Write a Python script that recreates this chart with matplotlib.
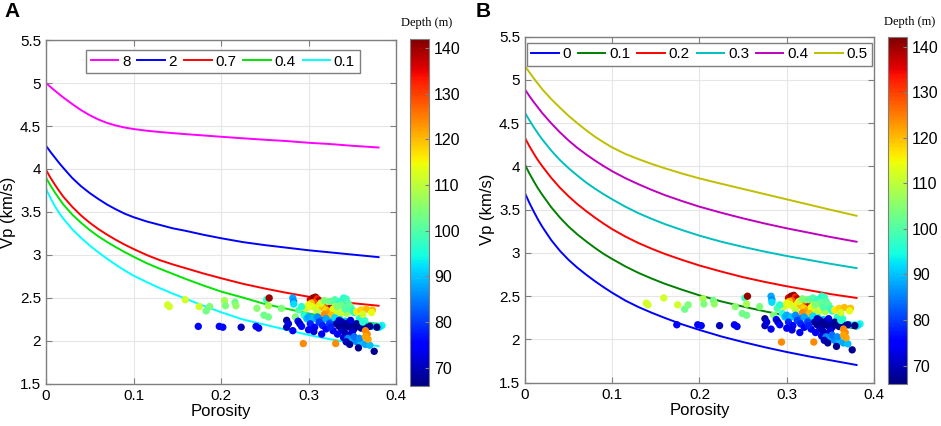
import numpy as np
import matplotlib
matplotlib.use('Agg')
import matplotlib.pyplot as plt
from matplotlib.ticker import FuncFormatter

# Porosity samples used to read the model curves off the figure:
vecPor = [0.0, 0.005, 0.01, 0.015, 0.02, 0.03, 0.04, 0.05, 0.06, 0.07,
          0.08, 0.09, 0.1, 0.115, 0.13, 0.145, 0.16, 0.18, 0.2, 0.225,
          0.25, 0.275, 0.3, 0.325, 0.35, 0.38]

# Panel A curves (legend value -> Vp in km/s):
lstLblA = ['8', '2', '0.7', '0.4', '0.1']
vpA_8 = [5.00, 4.955, 4.912, 4.87, 4.83, 4.755, 4.685, 4.625, 4.575, 4.535,
         4.505, 4.482, 4.465, 4.445, 4.43, 4.417, 4.405, 4.39, 4.375, 4.357,
         4.34, 4.325, 4.305, 4.29, 4.27, 4.25]
vpA_2 = [4.27, 4.20, 4.135, 4.07, 4.01, 3.895, 3.80, 3.72, 3.65, 3.585,
         3.53, 3.48, 3.44, 3.39, 3.35, 3.31, 3.28, 3.235, 3.195, 3.15,
         3.115, 3.085, 3.055, 3.03, 3.005, 2.975]
vpA_07 = [3.99, 3.90, 3.82, 3.745, 3.675, 3.56, 3.46, 3.375, 3.30, 3.235,
          3.175, 3.12, 3.07, 3.00, 2.94, 2.89, 2.845, 2.785, 2.73, 2.665,
          2.61, 2.56, 2.515, 2.475, 2.44, 2.41]
vpA_04 = [3.90, 3.81, 3.73, 3.655, 3.585, 3.47, 3.375, 3.29, 3.215, 3.15,
          3.09, 3.033, 2.98, 2.905, 2.84, 2.78, 2.72, 2.645, 2.575, 2.505,
          2.43, 2.375, 2.32, 2.275, 2.235, 2.20]
vpA_01 = [3.77, 3.665, 3.57, 3.49, 3.42, 3.30, 3.20, 3.11, 3.03, 2.955,
          2.885, 2.82, 2.76, 2.685, 2.615, 2.55, 2.49, 2.41, 2.335, 2.25,
          2.19, 2.13, 2.07, 2.02, 1.98, 1.94]

# Panel B curves:
lstLblB = ['0', '0.1', '0.2', '0.3', '0.4', '0.5']
vpB_0 = [3.69, 3.58, 3.48, 3.385, 3.30, 3.15, 3.025, 2.92, 2.83, 2.75,
         2.675, 2.605, 2.54, 2.45, 2.375, 2.31, 2.25, 2.175, 2.11, 2.035,
         1.97, 1.91, 1.855, 1.805, 1.76, 1.705]
vpB_1 = [4.02, 3.92, 3.83, 3.745, 3.67, 3.53, 3.41, 3.305, 3.215, 3.135,
         3.06, 2.99, 2.93, 2.845, 2.77, 2.705, 2.645, 2.575, 2.51, 2.44,
         2.38, 2.325, 2.275, 2.225, 2.18, 2.125]
vpB_2 = [4.33, 4.235, 4.15, 4.07, 4.00, 3.87, 3.755, 3.655, 3.565, 3.485,
         3.41, 3.34, 3.275, 3.19, 3.115, 3.05, 2.99, 2.92, 2.855, 2.785,
         2.72, 2.665, 2.615, 2.57, 2.525, 2.48]
vpB_3 = [4.62, 4.535, 4.455, 4.38, 4.31, 4.185, 4.075, 3.98, 3.895, 3.815,
         3.745, 3.68, 3.62, 3.535, 3.46, 3.395, 3.335, 3.265, 3.20, 3.13,
         3.07, 3.015, 2.965, 2.92, 2.875, 2.825]
vpB_4 = [4.89, 4.815, 4.745, 4.68, 4.615, 4.50, 4.395, 4.30, 4.215, 4.14,
         4.07, 4.005, 3.945, 3.865, 3.795, 3.73, 3.67, 3.60, 3.535, 3.465,
         3.40, 3.34, 3.285, 3.235, 3.185, 3.13]
vpB_5 = [5.16, 5.09, 5.02, 4.955, 4.89, 4.78, 4.68, 4.585, 4.50, 4.42,
         4.345, 4.28, 4.22, 4.145, 4.085, 4.03, 3.98, 3.918, 3.862, 3.80,
         3.74, 3.68, 3.62, 3.56, 3.50, 3.43]

# Measured samples: porosity, Vp (km/s), depth (m)
datPor = [
    0.139, 0.141, 0.159, 0.175, 0.183, 0.187, 0.174, 0.198, 0.202, 0.204,
    0.205, 0.216, 0.217, 0.223, 0.240, 0.243, 0.241, 0.252, 0.255, 0.249,
    0.254, 0.254, 0.269, 0.275, 0.275, 0.277,
    0.282, 0.283, 0.283, 0.285, 0.282, 0.288, 0.290, 0.292, 0.294, 0.297,
    0.289, 0.295, 0.298, 0.292,
    0.302, 0.305, 0.308, 0.310, 0.312, 0.306, 0.315, 0.318, 0.322, 0.326,
    0.303, 0.300,
    0.304, 0.308, 0.312, 0.316, 0.320, 0.324, 0.328, 0.332, 0.336, 0.310,
    0.318, 0.326, 0.340, 0.344, 0.314, 0.322, 0.330,
    0.318, 0.325, 0.330, 0.335, 0.340, 0.343, 0.338, 0.345, 0.348, 0.333,
    0.342, 0.350, 0.352,
    0.300, 0.305, 0.310, 0.315, 0.320, 0.325, 0.330, 0.336, 0.342, 0.348,
    0.354, 0.360, 0.366, 0.372, 0.378, 0.384, 0.381, 0.358, 0.364,
    0.302, 0.307, 0.312, 0.316, 0.320, 0.324, 0.328, 0.306, 0.300, 0.315,
    0.325,
    0.332, 0.335, 0.338, 0.340, 0.342, 0.345, 0.347, 0.350, 0.352, 0.355,
    0.357, 0.360, 0.362, 0.365, 0.338, 0.342, 0.346, 0.350, 0.335, 0.348,
    0.370, 0.378, 0.333, 0.340,
    0.345, 0.350, 0.355, 0.360, 0.365, 0.352, 0.358, 0.343, 0.347, 0.357,
    0.375, 0.370,
    0.331, 0.355, 0.360, 0.366, 0.373, 0.372, 0.362, 0.365, 0.367, 0.365,
    0.368, 0.362]
datVp = [
    2.42, 2.40, 2.48, 2.40, 2.35, 2.40, 2.17, 2.17, 2.16, 2.47,
    2.41, 2.45, 2.41, 2.16, 2.17, 2.15, 2.38, 2.48, 2.50, 2.30,
    2.28, 2.41, 2.38, 2.24, 2.16, 2.20,
    2.50, 2.46, 2.43, 2.28, 2.12, 2.23, 2.20, 2.17, 1.97, 2.38,
    2.36, 2.30, 2.26, 2.40,
    2.48, 2.50, 2.51, 2.49, 2.47, 2.45, 2.45, 2.43, 2.42, 2.40,
    2.44, 2.42,
    2.40, 2.38, 2.41, 2.39, 2.36, 2.34, 2.37, 2.33, 2.31, 2.34,
    2.31, 2.30, 2.35, 2.32, 2.44, 2.46, 2.44,
    2.47, 2.46, 2.48, 2.46, 2.50, 2.49, 2.42, 2.44, 2.40, 2.40,
    2.37, 2.36, 2.33,
    2.28, 2.26, 2.28, 2.24, 2.26, 2.22, 2.27, 2.25, 2.23, 2.22,
    2.20, 2.19, 2.18, 2.17, 2.17, 2.18, 2.16, 2.26, 2.24,
    2.20, 2.16, 2.22, 2.18, 2.14, 2.20, 2.12, 2.11, 2.13, 2.08,
    2.16,
    2.20, 2.17, 2.22, 2.15, 2.19, 2.21, 2.16, 2.18, 2.14, 2.20,
    2.17, 2.15, 2.19, 2.16, 2.12, 2.09, 2.06, 2.10, 2.24, 2.24,
    2.17, 2.16, 2.08, 2.04,
    2.03, 2.01, 1.99, 1.98, 1.96, 2.05, 2.03, 1.99, 1.96, 1.92,
    1.88, 1.95,
    1.97, 2.34, 2.36, 2.37, 2.36, 2.33, 2.31, 2.12, 2.08, 2.05,
    2.02, 2.22]
datDepth = [
    112, 112, 112, 112, 103, 104, 76, 76, 76, 108,
    104, 103, 106, 70, 74, 74, 105, 98, 140, 103,
    103, 108, 104, 68, 70, 72,
    88, 86, 92, 104, 74, 76, 70, 76, 124, 112,
    100, 96, 90, 96,
    136, 140, 140, 132, 138, 128, 134, 138, 130, 136,
    120, 114,
    114, 112, 116, 120, 118, 122, 114, 112, 110, 110,
    124, 120, 112, 108, 112, 108, 110,
    104, 102, 100, 98, 96, 98, 102, 100, 102, 104,
    100, 98, 96,
    88, 90, 86, 84, 88, 86, 92, 94, 90, 92,
    94, 92, 94, 92, 94, 94, 92, 96, 98,
    78, 76, 80, 78, 76, 80, 74, 72, 74, 74,
    78,
    68, 67, 68, 68, 67, 68, 67, 68, 68, 68,
    67, 68, 68, 68, 70, 70, 70, 72, 70, 72,
    68, 66, 74, 72,
    86, 88, 86, 90, 88, 84, 86, 70, 68, 67,
    67, 90,
    124, 116, 118, 120, 120, 114, 112, 124, 124, 122,
    122, 96]

# Line colours:
lstClrA = ['#ff00ff', '#0000ff', '#ff0000', '#00e400', '#00ffff']
lstClrB = ['#0000ff', '#008000', '#ff0000', '#00bfbf', '#bf00bf', '#bfbf00']

strFont = 'Liberation Sans'
varFs = 11.0
plt.rcParams['font.family'] = strFont

fig01 = plt.figure(figsize=(9.41, 4.26), dpi=100, facecolor='w')


def fmt_num(x, pos):
    return '%g' % round(x, 3)


def setup_axes(axs):
    axs.set_xlim(0.0, 0.4)
    axs.set_ylim(1.5, 5.5)
    axs.set_xticks(np.arange(0.0, 0.41, 0.1))
    axs.set_yticks(np.arange(1.5, 5.51, 0.5))
    axs.xaxis.set_major_formatter(FuncFormatter(fmt_num))
    axs.yaxis.set_major_formatter(FuncFormatter(fmt_num))
    axs.grid(True, color='#e6e6e6', linewidth=0.8)
    axs.set_axisbelow(True)
    for strSide in ['top', 'bottom', 'left', 'right']:
        axs.spines[strSide].set_color('#7f7f7f')
        axs.spines[strSide].set_linewidth(1.0)
    axs.tick_params(direction='in', length=4, width=0.8, colors='#7f7f7f',
                    labelcolor='k', labelsize=varFs, top=True, right=True)
    axs.set_xlabel('Porosity', fontsize=12, labelpad=1)
    axs.set_ylabel('Vp (km/s)', fontsize=12, labelpad=3)


def add_scatter(axs, cax, varTxtX):
    pltSc = axs.scatter(datPor, datVp, c=datDepth, cmap='jet', vmin=66,
                        vmax=142, s=28, linewidths=0, zorder=3)
    objCb = fig01.colorbar(pltSc, cax=cax)
    objCb.set_ticks(np.arange(70, 141, 10))
    objCb.ax.tick_params(direction='in', length=3, width=0.8,
                         colors='#7f7f7f', labelcolor='k', labelsize=11.5)
    objCb.outline.set_edgecolor('#7f7f7f')
    cax.text(varTxtX, 1.028, 'Depth (m)', transform=cax.transAxes,
             ha='center', va='bottom', fontsize=9,
             family='Liberation Serif')


def add_legend(axs, varNcol, tplAnchor):
    objLeg = axs.legend(loc='upper center', ncol=varNcol, fontsize=11,
                        bbox_to_anchor=tplAnchor, handlelength=1.8,
                        handletextpad=0.25, columnspacing=0.45,
                        borderpad=0.3, borderaxespad=0.0, fancybox=False,
                        framealpha=1.0)
    objLeg.get_frame().set_edgecolor('#7f7f7f')
    objLeg.get_frame().set_linewidth(1.0)


# Panel A
axsA = fig01.add_axes([0.0489, 0.0986, 0.372, 0.8075])
caxA = fig01.add_axes([0.4357, 0.094, 0.0202, 0.8146])
setup_axes(axsA)
for lstVp, strLbl, strClr in zip([vpA_8, vpA_2, vpA_07, vpA_04, vpA_01],
                                 lstLblA, lstClrA):
    axsA.plot(vecPor, lstVp, color=strClr, lw=1.4, label=strLbl, zorder=2)
add_scatter(axsA, caxA, 0.9)
add_legend(axsA, 5, (0.505, 0.971))

# Panel B
axsB = fig01.add_axes([0.5579, 0.1016, 0.3709, 0.8122])
caxB = fig01.add_axes([0.944, 0.099, 0.0202, 0.813])
setup_axes(axsB)
for lstVp, strLbl, strClr in zip([vpB_0, vpB_1, vpB_2, vpB_3, vpB_4, vpB_5],
                                 lstLblB, lstClrB):
    axsB.plot(vecPor, lstVp, color=strClr, lw=1.4, label=strLbl, zorder=2)
add_scatter(axsB, caxB, 1.12)
add_legend(axsB, 6, (0.5, 0.983))

# Panel letters
fig01.text(0.005, 0.995, 'A', fontsize=15, fontweight='bold', va='top')
fig01.text(0.505, 0.995, 'B', fontsize=15, fontweight='bold', va='top')

fig01.savefig('out.png', dpi=100, facecolor='w')
